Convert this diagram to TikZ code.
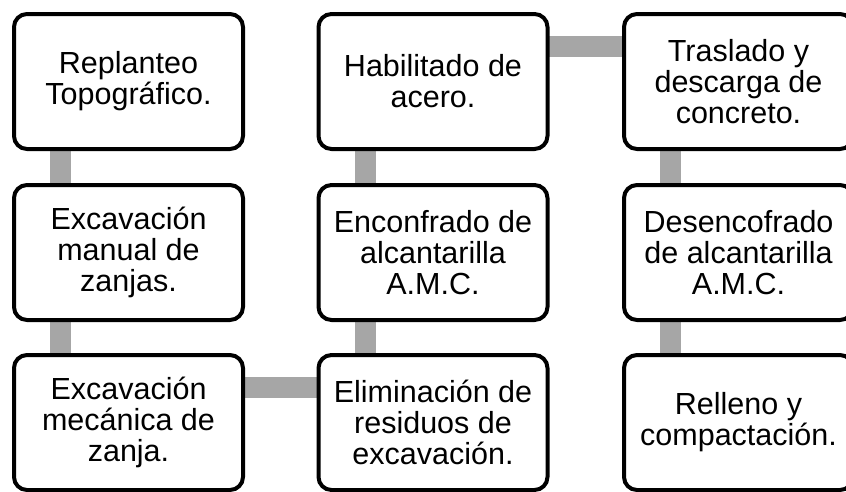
\documentclass[tikz,border=0pt]{standalone}
\usepackage{fontspec}
\setmainfont{Liberation Sans}
\usetikzlibrary{calc,backgrounds}
\definecolor{bargray}{HTML}{A6A6A6}
\tikzset{
  stepbox/.style={draw=black, line width=4pt, fill=white, rounded corners=13pt,
    minimum width=229pt, minimum height=135pt, inner sep=0pt, align=center,
    font=\fontsize{30.5}{31}\selectfont, text=black},
  bar/.style={draw=bargray, line width=21pt}
}
\begin{document}
\begin{tikzpicture}[x=1pt,y=1pt]
\useasboundingbox (0,0) rectangle (846,-491);
\begin{scope}
\clip (0,0) rectangle (846,-491);
\node[stepbox] (a1) at (128.5,-81.5) {Replanteo\\Topográfico.};
\node[stepbox] (a2) at (128.5,-252.5) {Excavación\\manual de\\zanjas.};
\node[stepbox] (a3) at (128.5,-422.5) {Excavación\\mecánica de\\zanja.};
\node[stepbox] (b3) at (433,-422.5) {Eliminación de\\residuos de\\excavación.};
\node[stepbox] (b2) at (433,-252.5) {Enconfrado de\\alcantarilla\\A.M.C.};
\node[stepbox] (b1) at (433,-81.5) {Habilitado de\\acero.};
\node[stepbox] (c1) at (738.5,-81.5) {Traslado y\\descarga de\\concreto.};
\node[stepbox] (c2) at (738.5,-252.5) {Desencofrado\\de alcantarilla\\A.M.C.};
\node[stepbox] (c3) at (738.5,-422.5) {Relleno y\\compactación.};
\begin{scope}[on background layer]
\draw[bar] ($(a1.south west)+(48.5,2)$) -- ($(a2.north west)+(48.5,-2)$);
\draw[bar] ($(a2.south west)+(48.5,2)$) -- ($(a3.north west)+(48.5,-2)$);
\draw[bar] ($(a3.north east)+(-2,-34.5)$) -- ($(b3.north west)+(2,-34.5)$);
\draw[bar] ($(b3.north west)+(48.5,-2)$) -- ($(b2.south west)+(48.5,2)$);
\draw[bar] ($(b2.north west)+(48.5,-2)$) -- ($(b1.south west)+(48.5,2)$);
\draw[bar] ($(b1.north east)+(-2,-34)$) -- ($(c1.north west)+(2,-34)$);
\draw[bar] ($(c1.south west)+(48.5,2)$) -- ($(c2.north west)+(48.5,-2)$);
\draw[bar] ($(c2.south west)+(48.5,2)$) -- ($(c3.north west)+(48.5,-2)$);
\end{scope}
\end{scope}
\end{tikzpicture}
\end{document}
